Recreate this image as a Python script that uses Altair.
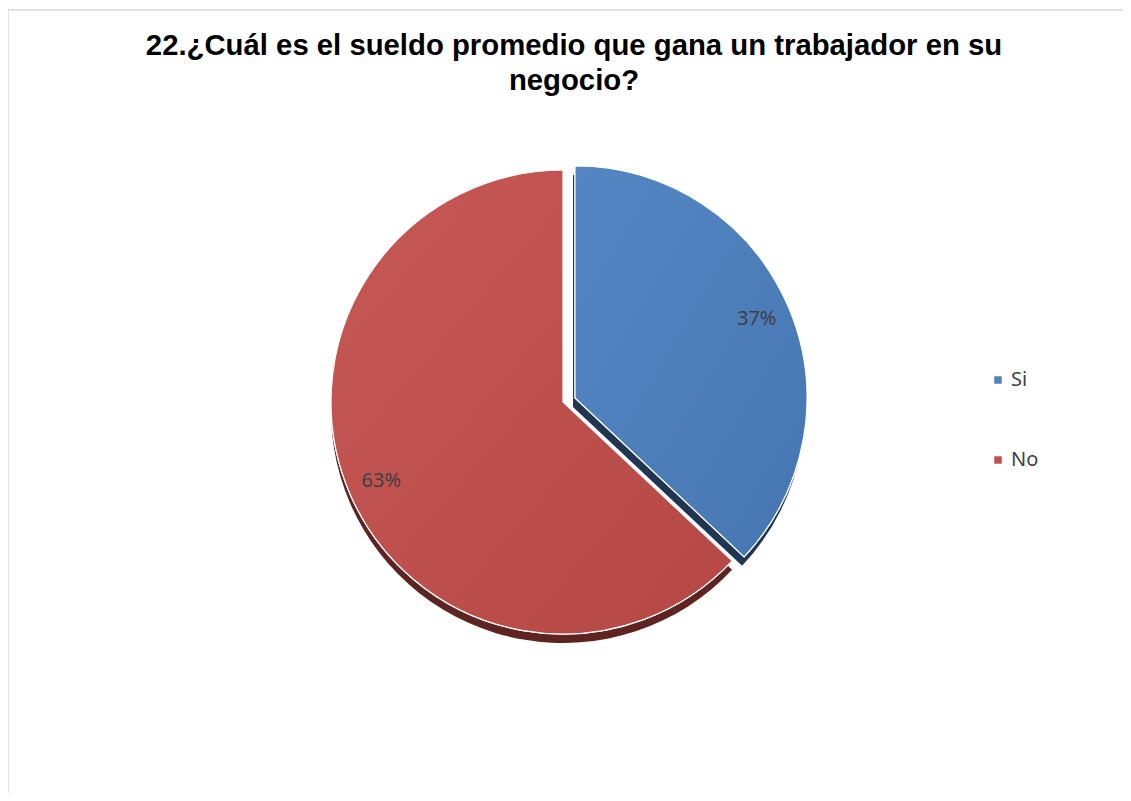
import math
import altair as alt
import pandas as pd

# Data
respuestas = ["Si", "No"]
porcentajes = [37, 63]
orden = [1, 2]
colores = ["#4F81BD", "#C0504D"]
sombras = ["#1F3552", "#5E2422"]
degradados = {"Si": ("#5387C4", "#4676B2"), "No": ("#C65956", "#B54845")}

df = pd.DataFrame({"respuesta": respuestas, "valor": porcentajes, "orden": orden})
df["etiqueta"] = df["valor"].astype(str) + "%"

W, H = 1115, 783
R = 232
centro = {"No": (555, 392), "Si": (567, 388)}
desp_sombra = {"No": (0, 9), "Si": (-2, 9)}

theta_scale = alt.Scale(domain=[0, 100], range=[0, 2 * math.pi])
color_scale = alt.Scale(domain=respuestas, range=colores)

base = (
    alt.Chart(df)
    .transform_window(fin="sum(valor)", sort=[alt.SortField("orden")], frame=[None, 0])
    .transform_calculate(inicio="datum.fin - datum.valor",
                         medio="datum.fin - datum.valor / 2")
)

legend = alt.Legend(
    title=None, orient="none", legendX=980, legendY=360, direction="vertical",
    symbolType="square", symbolSize=56, symbolStrokeWidth=0, symbolOpacity=1,
    labelFont="Noto Sans", labelFontSize=20, labelColor="#404040",
    labelOffset=3, rowPadding=60, padding=0,
)

# chart frame (top and left edges of the light grey border)
borde = alt.Chart(df).transform_filter(alt.datum.orden == 1)
layers = [
    borde.mark_rule(color="#D9D9D9", strokeWidth=1.5).encode(
        x=alt.value(0), x2=alt.value(W), y=alt.value(0)),
    borde.mark_rule(color="#D9D9D9", strokeWidth=1.5).encode(
        x=alt.value(0), y=alt.value(0), y2=alt.value(H)),
]

for cat, scol in zip(respuestas, sombras):
    cx, cy = centro[cat]
    dx, dy = desp_sombra[cat]
    layers.append(
        base.transform_filter(alt.datum.respuesta == cat)
        .mark_arc(outerRadius=R, x=cx + dx, y=cy + dy, color=scol)
        .encode(theta=alt.Theta("inicio:Q", scale=theta_scale), theta2="fin:Q")
    )
for cat in ["No", "Si"]:
    cx, cy = centro[cat]
    c0, c1 = degradados[cat]
    sel = base.transform_filter(alt.datum.respuesta == cat)
    layers.append(
        sel.mark_arc(outerRadius=R, x=cx, y=cy, stroke="white", strokeWidth=1.2)
        .encode(
            theta=alt.Theta("inicio:Q", scale=theta_scale),
            theta2="fin:Q",
            color=alt.Color("respuesta:N", scale=color_scale, legend=legend),
        )
    )
    layers.append(
        sel.mark_arc(
            outerRadius=R, x=cx, y=cy, stroke="white", strokeWidth=1.2,
            fill=alt.LinearGradient(
                gradient="linear", x1=0, y1=0, x2=1, y2=1,
                stops=[alt.GradientStop(color=c0, offset=0),
                       alt.GradientStop(color=c1, offset=1)],
            ),
        ).encode(theta=alt.Theta("inicio:Q", scale=theta_scale), theta2="fin:Q")
    )
    layers.append(
        sel.mark_text(radius=198, x=cx, y=cy, font="Noto Sans", fontSize=20,
                      color="#404040", baseline="middle", align="center")
        .encode(theta=alt.Theta("medio:Q", scale=theta_scale), text="etiqueta:N")
    )

chart = (
    alt.layer(*layers)
    .properties(
        width=W,
        height=H,
        padding={"left": 0, "top": 2, "right": 0, "bottom": 0},
        autosize=alt.AutoSizeParams(type="none"),
        title=alt.TitleParams(
            text=["22.¿Cuál es el sueldo promedio que gana un trabajador en su", "negocio?"],
            font="Liberation Sans", fontSize=29.3, fontWeight="bold", color="#000000",
            anchor="middle", frame="group", baseline="top", offset=-24, dx=8.5, dy=63,
            lineHeight=35,
        ),
    )
    .configure_view(stroke=None)
)

chart.save("out.html", embed_options={"renderer": "svg", "actions": False})
